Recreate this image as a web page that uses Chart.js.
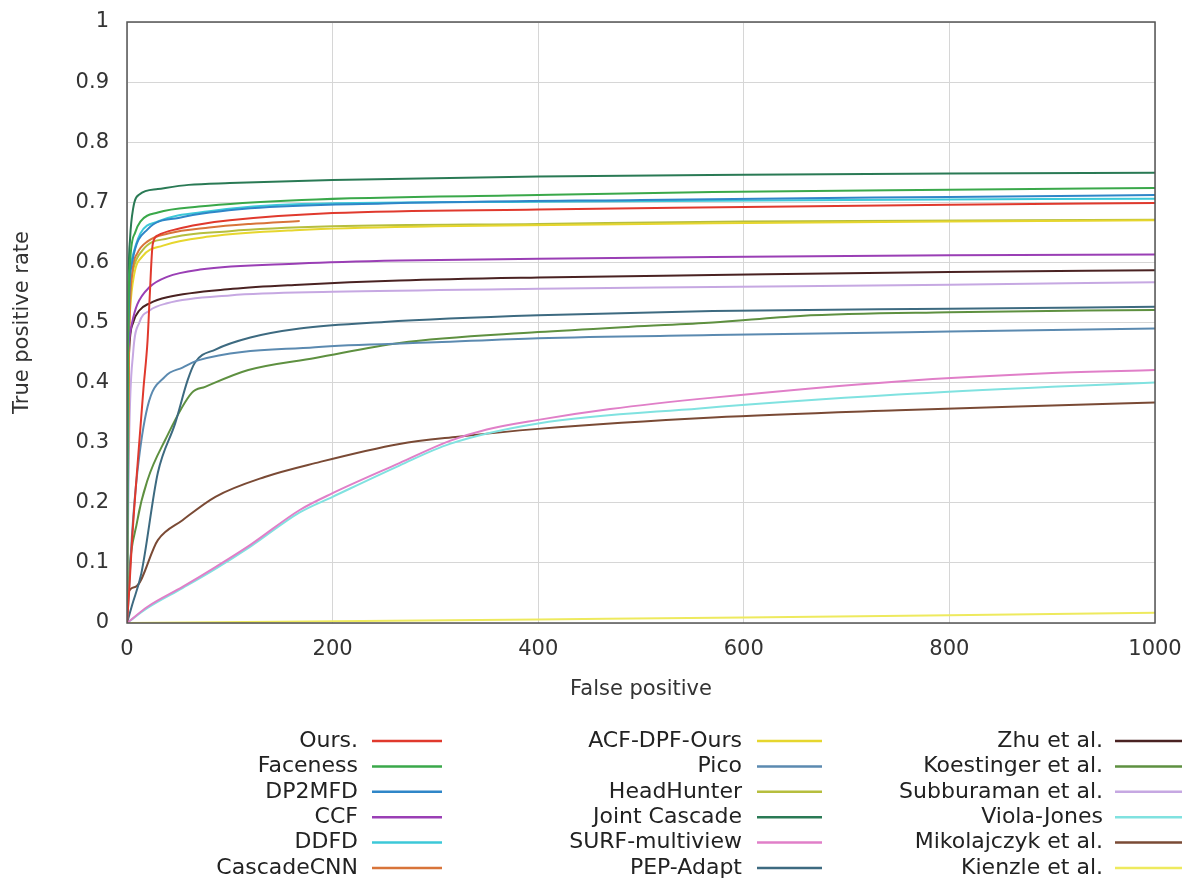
<!DOCTYPE html>
<html>
<head>
<meta charset="utf-8">
<script src="https://cdn.jsdelivr.net/npm/chart.js@4"></script>
<style>
  body { margin: 0; background: #fff; }
  canvas { display: block; }
</style>
</head>
<body>
<canvas id="roc" width="1199" height="895"></canvas>
<script>
const xTicks = [0, 200, 400, 600, 800, 1000];
const yTicks = [0, 0.1, 0.2, 0.3, 0.4, 0.5, 0.6, 0.7, 0.8, 0.9, 1];

// [false positives, true positive rate]
const ours = [[0,0],[2,0.05],[5,0.14],[11,0.28],[16,0.39],[20,0.47],[22,0.54],[25,0.63],[30,0.645],[50,0.656],[70,0.663],[100,0.67],[200,0.682],[400,0.688],[600,0.692],[800,0.696],[1000,0.699]];
const faceness = [[0,0],[1,0.45],[3,0.6],[8,0.65],[13,0.668],[30,0.683],[70,0.693],[170,0.704],[400,0.712],[570,0.717],[800,0.721],[1000,0.724]];
const dp2mfd = [[0,0],[1,0.45],[5,0.6],[20,0.655],[50,0.674],[120,0.69],[250,0.698],[500,0.704],[800,0.709],[1000,0.712]];
const ccf = [[0,0.43],[2,0.47],[5,0.5],[10,0.53],[22,0.559],[39,0.576],[71,0.588],[168,0.598],[265,0.603],[400,0.606],[570,0.609],[800,0.612],[1000,0.613]];
const ddfd = [[0,0],[1,0.5],[4,0.6],[13,0.648],[30,0.668],[80,0.685],[170,0.697],[400,0.701],[700,0.704],[1000,0.706]];
const cascadeCnn = [[0,0],[2,0.45],[5,0.58],[10,0.615],[20,0.635],[40,0.648],[80,0.658],[120,0.664],[168,0.669]];
const acfDpf = [[0,0],[1,0.4],[3,0.52],[7,0.58],[15,0.61],[35,0.628],[80,0.643],[168,0.654],[300,0.66],[570,0.665],[800,0.668],[1000,0.67]];
const pico = [[0,0],[1,0.027],[5,0.15],[10,0.25],[20,0.36],[37,0.41],[54,0.425],[69,0.437],[183,0.459],[300,0.467],[400,0.474],[570,0.479],[800,0.485],[1000,0.49]];
const headHunter = [[0,0],[2,0.5],[5,0.58],[15,0.62],[40,0.64],[100,0.652],[200,0.66],[400,0.664],[600,0.668],[1000,0.671]];
const jointCascade = [[0,0],[1,0.5],[3,0.64],[6,0.69],[12,0.713],[30,0.722],[60,0.729],[100,0.732],[200,0.737],[400,0.743],[600,0.746],[800,0.748],[1000,0.749]];
const surf = [[0,0],[20,0.027],[54,0.06],[86,0.093],[120,0.13],[168,0.188],[200,0.216],[265,0.266],[314,0.303],[350,0.322],[400,0.338],[470,0.356],[570,0.375],[750,0.402],[900,0.416],[1000,0.421]];
const pepAdapt = [[0,0],[5,0.03],[14,0.083],[30,0.25],[47,0.333],[59,0.404],[66,0.433],[86,0.455],[120,0.475],[168,0.49],[250,0.501],[400,0.512],[570,0.519],[800,0.523],[1000,0.526]];
const zhu = [[0,0.3],[2,0.45],[6,0.5],[12,0.52],[22,0.532],[39,0.542],[103,0.556],[168,0.563],[265,0.57],[400,0.575],[570,0.579],[800,0.584],[1000,0.587]];
const koestinger = [[0,0],[1,0.05],[10,0.17],[20,0.238],[37,0.304],[63,0.383],[76,0.393],[118,0.421],[183,0.441],[265,0.466],[400,0.484],[490,0.493],[570,0.5],[655,0.511],[800,0.517],[1000,0.521]];
const subburaman = [[0,0],[2,0.3],[6,0.45],[12,0.5],[22,0.52],[39,0.532],[100,0.545],[200,0.551],[400,0.556],[570,0.559],[800,0.563],[1000,0.567]];
const violaJones = [[0,0],[20,0.025],[54,0.058],[86,0.09],[120,0.127],[168,0.184],[200,0.21],[265,0.262],[314,0.298],[400,0.332],[557,0.357],[750,0.38],[900,0.393],[1000,0.4]];
const mikolajczyk = [[0,0],[1,0.05],[8,0.06],[30,0.138],[54,0.171],[86,0.21],[134,0.243],[183,0.266],[265,0.298],[322,0.31],[400,0.323],[570,0.342],[750,0.354],[900,0.362],[1000,0.367]];
const kienzle = [[0,0],[200,0.003],[400,0.006],[600,0.009],[800,0.013],[1000,0.017]];

const methods = ["Ours.", "Faceness", "DP2MFD", "CCF", "DDFD", "CascadeCNN",
  "ACF-DPF-Ours", "Pico", "HeadHunter", "Joint Cascade", "SURF-multiview", "PEP-Adapt",
  "Zhu et al.", "Koestinger et al.", "Subburaman et al.", "Viola-Jones", "Mikolajczyk et al.", "Kienzle et al."];
const curves = [ours, faceness, dp2mfd, ccf, ddfd, cascadeCnn,
  acfDpf, pico, headHunter, jointCascade, surf, pepAdapt,
  zhu, koestinger, subburaman, violaJones, mikolajczyk, kienzle];
const colors = ["#e0392d", "#3aa84a", "#2f86c8", "#9a3fb5", "#3cc8d8", "#d8743a",
  "#e6d62e", "#5b8ab0", "#b6be3e", "#2a7a55", "#e07fc8", "#3d6a80",
  "#4a2222", "#5e9040", "#c6a8e2", "#80e2e0", "#7a4a35", "#eeea5e"];

const FONT = "'DejaVu Sans', sans-serif";

// box round the plot, like gnuplot
const borderPlugin = {
  id: "border",
  afterDraw(chart) {
    const { ctx, chartArea: a } = chart;
    ctx.save();
    ctx.strokeStyle = "#555";
    ctx.lineWidth = 1.5;
    ctx.strokeRect(a.left, a.top, a.right - a.left, a.bottom - a.top);
    ctx.restore();
  },
};

// three column legend under the plot
const legendPlugin = {
  id: "gridLegend",
  afterDraw(chart) {
    const ctx = chart.ctx;
    const cols = [
      { textRight: 358, x1: 372, x2: 442 },
      { textRight: 742, x1: 757, x2: 822 },
      { textRight: 1103, x1: 1115, x2: 1182 },
    ];
    ctx.save();
    ctx.font = "22px " + FONT;
    ctx.textAlign = "right";
    ctx.textBaseline = "middle";
    chart.data.datasets.forEach((ds, i) => {
      const col = cols[Math.floor(i / 6)];
      const y = 741 + (i % 6) * 25.4;
      ctx.fillStyle = "#222";
      ctx.fillText(ds.label, col.textRight, y);
      ctx.strokeStyle = ds.borderColor;
      ctx.lineWidth = 2.5;
      ctx.beginPath();
      ctx.moveTo(col.x1, y);
      ctx.lineTo(col.x2, y);
      ctx.stroke();
    });
    ctx.restore();
  },
};

new Chart(document.getElementById("roc"), {
  type: "line",
  data: {
    datasets: methods.map((name, i) => ({
      label: name,
      data: curves[i].map(([x, y]) => ({ x, y })),
      borderColor: colors[i],
      backgroundColor: colors[i],
      borderWidth: 2,
      pointRadius: 0,
      cubicInterpolationMode: "monotone",
      fill: false,
    })),
  },
  options: {
    responsive: false,
    animation: false,
    layout: { padding: { top: 22, right: 44, bottom: 187, left: 0 } },
    plugins: { legend: { display: false }, tooltip: { enabled: false } },
    scales: {
      x: {
        type: "linear",
        min: 0,
        max: 1000,
        afterBuildTicks: (s) => { s.ticks = xTicks.map((v) => ({ value: v })); },
        afterFit: (s) => {
          s.height = 85;
          s.paddingLeft = 0;
          s.paddingRight = 0;
        },
        grid: { color: "#d6d6d6", drawTicks: false },
        border: { display: false },
        ticks: {
          padding: 14,
          color: "#333",
          font: { family: FONT, size: 21 },
          callback: (v) => String(v),
        },
        title: {
          display: true,
          text: "False positive",
          color: "#333",
          font: { family: FONT, size: 21 },
          padding: { top: 0, bottom: 6 },
        },
      },
      y: {
        min: 0,
        max: 1,
        afterBuildTicks: (s) => { s.ticks = yTicks.map((v) => ({ value: v })); },
        afterFit: (s) => {
          s.width = 127;
          s.paddingTop = 0;
          s.paddingBottom = 0;
        },
        grid: { color: "#d6d6d6", drawTicks: false },
        border: { display: false },
        ticks: {
          padding: 18,
          color: "#333",
          font: { family: FONT, size: 21 },
          callback: (v) => String(+v.toFixed(1)),
        },
        title: {
          display: true,
          text: "True positive rate",
          color: "#333",
          font: { family: FONT, size: 21 },
          padding: { top: 10, bottom: 0 },
        },
      },
    },
  },
  plugins: [borderPlugin, legendPlugin],
});
</script>
</body>
</html>
